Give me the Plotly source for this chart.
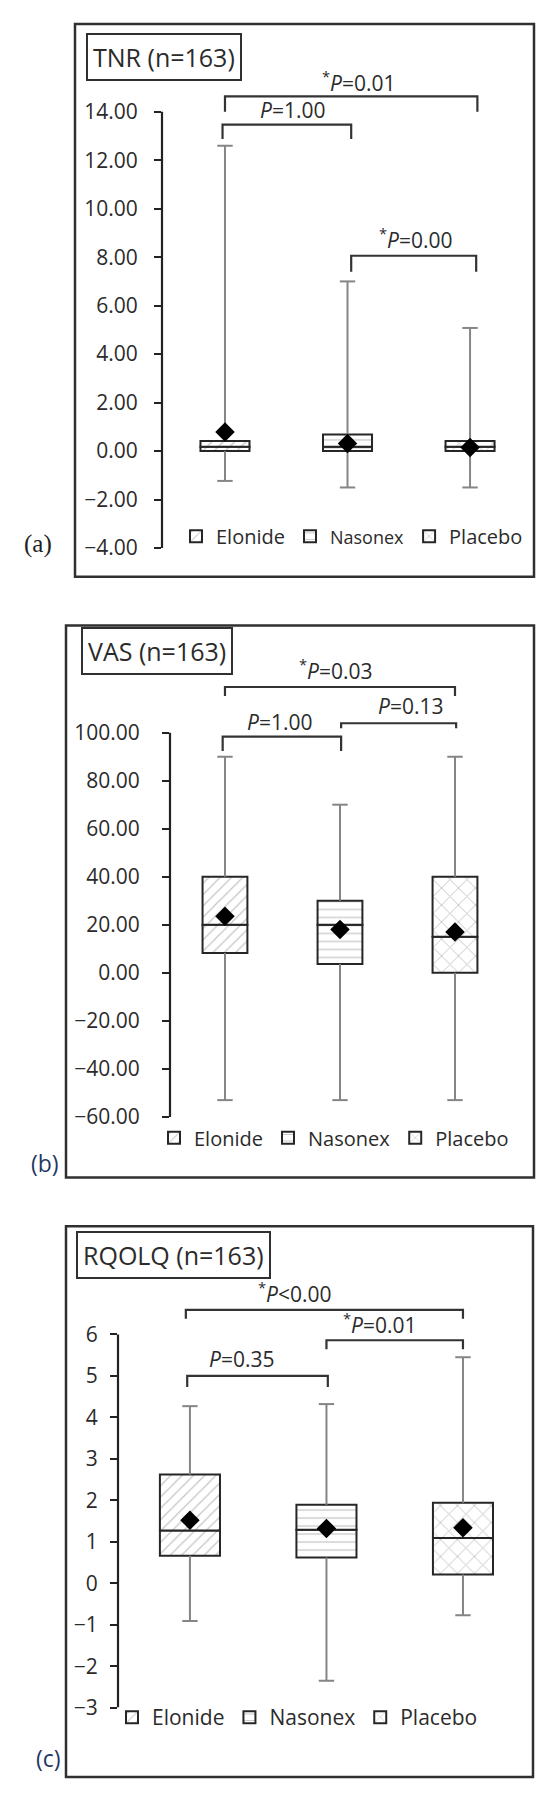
import plotly.graph_objects as go

W, H = 550, 1798

groups = ["Elonide", "Nasonex", "Placebo"]
patterns = ["/", "-", "x"]

# ---- TNR panel (a)
tnr_min = [-1.23, -1.5, -1.5]
tnr_q1 = [0.0, 0.0, 0.0]
tnr_median = [0.18, 0.18, 0.18]
tnr_q3 = [0.42, 0.68, 0.42]
tnr_max = [12.6, 7.0, 5.08]
tnr_mean = [0.79, 0.31, 0.15]
tnr_ticks = [-4, -2, 0, 2, 4, 6, 8, 10, 12, 14]
tnr_ticktext = ["\u22124.00", "\u22122.00", "0.00", "2.00", "4.00", "6.00",
                "8.00", "10.00", "12.00", "14.00"]
tnr_p_text = ["<sup>*</sup><i>P</i>=0.01", "<i>P</i>=1.00", "<sup>*</sup><i>P</i>=0.00"]
tnr_br_left = [0.0, -0.02, 1.03]
tnr_br_right = [2.06, 1.03, 2.05]
tnr_br_top = [14.63, 13.47, 8.06]
tnr_br_end = [14.0, 12.88, 7.4]

# ---- VAS panel (b)
vas_min = [-53, -53, -53]
vas_q1 = [8.3, 3.7, 0.0]
vas_median = [20, 20, 15]
vas_q3 = [40, 30, 40]
vas_max = [90, 70, 90]
vas_mean = [23.5, 18, 17]
vas_ticks = [-60, -40, -20, 0, 20, 40, 60, 80, 100]
vas_ticktext = ["\u221260.00", "\u221240.00", "\u221220.00", "0.00", "20.00",
                "40.00", "60.00", "80.00", "100.00"]
vas_p_text = ["<sup>*</sup><i>P</i>=0.03", "<i>P</i>=1.00", "<i>P</i>=0.13"]
vas_br_left = [0.0, -0.02, 1.01]
vas_br_right = [2.0, 1.01, 2.01]
vas_br_top = [119, 98.3, 103.9]
vas_br_end = [115.3, 92.4, 101.8]

# ---- RQOLQ panel (c)
rq_min = [-0.91, -2.35, -0.77]
rq_q1 = [0.66, 0.62, 0.21]
rq_median = [1.27, 1.29, 1.09]
rq_q3 = [2.62, 1.89, 1.94]
rq_max = [4.27, 4.32, 5.45]
rq_mean = [1.52, 1.32, 1.34]
rq_ticks = [-3, -2, -1, 0, 1, 2, 3, 4, 5, 6]
rq_ticktext = ["\u22123", "\u22122", "\u22121", "0", "1", "2", "3", "4", "5", "6"]
rq_p_text = ["<sup>*</sup><i>P</i>&lt;0.00", "<sup>*</sup><i>P</i>=0.01", "<i>P</i>=0.35"]
rq_br_left = [-0.03, 1.0, -0.02]
rq_br_right = [2.0, 2.0, 1.01]
rq_br_top = [6.59, 5.86, 5.0]
rq_br_end = [6.38, 5.64, 4.73]

FONT = "Open Sans"
TXT = "#2b2b2b"


def px(x):
    return x / W


def py(y):
    return 1 - y / H


fig = go.Figure()
shapes = []
annotations = []


def add_panel(n, mins, q1s, meds, q3s, maxs, means, box_w, ticks, ticktext,
              p_text, br_left, br_right, br_top, br_end, p_pos,
              xdom, xrange, ydom, yrange, standoff, legend_pos, legend_size=20,
              name_font=None):
    xa = "x" if n == 1 else f"x{n}"
    ya = "y" if n == 1 else f"y{n}"
    lg = "legend" if n == 1 else f"legend{n}"

    # whiskers
    wx, wy = [], []
    for i in range(3):
        wx += [i, i, None, i, i, None]
        wy += [q3s[i], maxs[i], None, q1s[i], mins[i], None]
    fig.add_trace(go.Scatter(x=wx, y=wy, mode="lines", xaxis=xa, yaxis=ya,
                             line=dict(color="#858585", width=2),
                             showlegend=False, hoverinfo="skip"))
    fig.add_trace(go.Scatter(x=[0, 1, 2, 0, 1, 2], y=maxs + mins, mode="markers",
                             xaxis=xa, yaxis=ya, showlegend=False,
                             marker=dict(symbol="line-ew", size=11,
                                         line=dict(color="#858585", width=2))))

    # boxes (lower and upper halves, the seam is the median)
    for i, g in enumerate(groups):
        label = g
        if name_font and g in name_font:
            label = f"<span style='font-size:{name_font[g]}px'>{g}</span>"
        mk = dict(color="white", line=dict(color="#262626", width=2),
                  pattern=dict(shape=patterns[i], fgcolor="#8a8a8a", bgcolor="white",
                               size=8 if patterns[i] != "x" else 12, solidity=0.15))
        fig.add_trace(go.Bar(x=[i], base=[q1s[i]], y=[meds[i] - q1s[i]], width=box_w,
                             marker=mk, name=label, legend=lg, xaxis=xa, yaxis=ya))
        fig.add_trace(go.Bar(x=[i], base=[meds[i]], y=[q3s[i] - meds[i]], width=box_w,
                             marker=mk, showlegend=False, xaxis=xa, yaxis=ya))

    # means
    fig.add_trace(go.Scatter(x=[0, 1, 2], y=means, mode="markers", xaxis=xa, yaxis=ya,
                             marker=dict(symbol="diamond", size=15, color="black"),
                             showlegend=False))

    # significance brackets
    for k in range(len(p_text)):
        fig.add_trace(go.Scatter(x=[br_left[k], br_left[k], br_right[k], br_right[k]],
                                 y=[br_end[k], br_top[k], br_top[k], br_end[k]],
                                 mode="lines", xaxis=xa, yaxis=ya, showlegend=False,
                                 line=dict(color="#333333", width=2.2)))
        annotations.append(dict(text=p_text[k], x=p_pos[k][0], y=p_pos[k][1],
                                xref=xa, yref=ya, showarrow=False,
                                xanchor="center", yanchor="middle",
                                font=dict(family=FONT, size=21, color=TXT)))

    # y axis line drawn between outer ticks
    shapes.append(dict(type="line", xref=f"{xa} domain", x0=0, x1=0, yref=ya,
                       y0=ticks[0], y1=ticks[-1], line=dict(color="#222222", width=2.2)))

    axis_x = "xaxis" if n == 1 else f"xaxis{n}"
    axis_y = "yaxis" if n == 1 else f"yaxis{n}"
    fig.update_layout({
        axis_x: dict(domain=xdom, range=xrange, visible=False, anchor=ya),
        axis_y: dict(domain=ydom, range=yrange, anchor=xa, showgrid=False,
                     zeroline=False, showline=False, ticks="outside", ticklen=7,
                     tickwidth=2, tickcolor="#222222", tickvals=ticks, ticktext=ticktext,
                     ticklabelstandoff=standoff,
                     tickfont=dict(family=FONT, size=21, color=TXT)),
        lg: dict(orientation="h", x=legend_pos[0], y=legend_pos[1], xanchor="left",
                 yanchor="middle", bgcolor="rgba(0,0,0,0)",
                 font=dict(family=FONT, size=legend_size, color=TXT)),
    })


# panel (a)
add_panel(1, tnr_min, tnr_q1, tnr_median, tnr_q3, tnr_max, tnr_mean, 0.40,
          tnr_ticks, tnr_ticktext, tnr_p_text, tnr_br_left, tnr_br_right,
          tnr_br_top, tnr_br_end, [(1.09, 15.25), (0.555, 14.06), (1.56, 8.77)],
          [px(154), px(526)], [-0.514, 2.522], [py(544), py(20)], [-4, 17.46], 12,
          (px(168), py(532)), legend_size=20, name_font={"Nasonex": 18})
# panel (b)
add_panel(2, vas_min, vas_q1, vas_median, vas_q3, vas_max, vas_mean, 0.39,
          vas_ticks, vas_ticktext, vas_p_text, vas_br_left, vas_br_right,
          vas_br_top, vas_br_end, [(0.965, 126.4), (0.478, 104.5), (1.61, 111.2)],
          [px(162), px(526)], [-0.478, 2.687], [py(1117), py(630)], [-60, 141.3], 18,
          (px(146), py(1138)), legend_size=20)
# panel (c)
add_panel(3, rq_min, rq_q1, rq_median, rq_q3, rq_max, rq_mean, 0.44,
          rq_ticks, rq_ticktext, rq_p_text, rq_br_left, rq_br_right,
          rq_br_top, rq_br_end, [(0.77, 7.0), (1.39, 6.27), (0.38, 5.41)],
          [px(110), px(525)], [-0.527, 2.513], [py(1712), py(1235)], [-3, 8.42], 8,
          (px(104), py(1722)), legend_size=21)

# panel frames
for x0, y0, x1, y1 in [(67, 16, 526, 573), (58, 622, 526, 1178), (58, 1227, 525, 1782)]:
    shapes.append(dict(type="rect", xref="paper", yref="paper", x0=px(x0), x1=px(x1),
                       y0=py(y1), y1=py(y0), line=dict(color="#303030", width=2.5),
                       layer="below"))

# title boxes
for text, cx, cy in [("TNR (n=163)", 155.5, 49), ("VAS (n=163)", 148.5, 647.5),
                     ("RQOLQ (n=163)", 165, 1256.5)]:
    annotations.append(dict(text=text, x=px(cx), y=py(cy), xref="paper", yref="paper",
                            xanchor="center", yanchor="middle", showarrow=False,
                            bordercolor="#303030", borderwidth=2, borderpad=5,
                            font=dict(family=FONT, size=25, color=TXT)))

# panel letters
annotations.append(dict(text="(a)", x=px(30), y=py(540), xref="paper", yref="paper",
                        xanchor="center", yanchor="middle", showarrow=False,
                        font=dict(family="Liberation Serif", size=25, color="#222222")))
for text, cx, cy in [("(b)", 37, 1163), ("(c)", 40, 1763)]:
    annotations.append(dict(text=text, x=px(cx), y=py(cy), xref="paper", yref="paper",
                            xanchor="center", yanchor="middle", showarrow=False,
                            font=dict(family=FONT, size=23, color="#1f3864")))

fig.update_layout(
    width=W, height=H, autosize=False,
    margin=dict(l=0, r=0, t=0, b=0),
    plot_bgcolor="white", paper_bgcolor="white",
    barmode="overlay", shapes=shapes, annotations=annotations,
)

fig.write_html("out.html")
